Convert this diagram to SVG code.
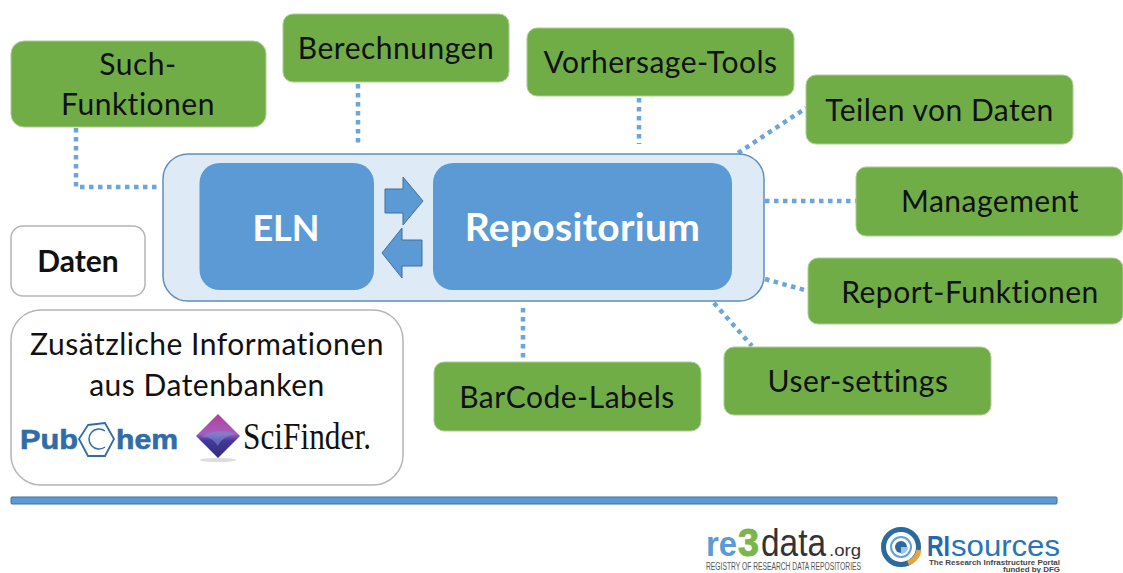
<svg xmlns="http://www.w3.org/2000/svg" width="1123" height="573" viewBox="0 0 1123 573">
<style>
text{font-family:Lato,"Open Sans",sans-serif}
.s{font-family:"Liberation Sans",sans-serif}
.g rect{fill:#70ad47;stroke:#a9cf94;stroke-width:1}
.g text{font-size:30px;fill:#111;text-anchor:middle;letter-spacing:.5px}
.c{fill:none;stroke:#5b9bd5;stroke-width:4.500;stroke-dasharray:4.500 4.500;opacity:.9}
.w{fill:#fff;stroke:#b5b5b5;stroke-width:1.500}
.b{fill:#5b9ad5}
.ar{fill:#5b9ad5;stroke:#41719c;stroke-width:1}
</style>
<rect width="1123" height="573" fill="#fff"/>
<g id="connectors">
<path class="c" d="M76 128V187H157"/>
<path class="c" d="M358 84V144"/>
<path class="c" d="M639 98V144"/>
<path class="c" d="M738 153L806 108"/>
<path class="c" d="M765 201H856"/>
<path class="c" d="M765 279L808 291"/>
<path class="c" d="M714 303L752 346"/>
<path class="c" d="M523 308V362"/>
</g>
<g id="repo-container"><rect x="163" y="154" width="601" height="147" rx="25" fill="#deeaf6" stroke="#5f8fbd" stroke-width="1.500"/></g>
<g id="eln"><rect class="b" x="199.500" y="163" width="174.500" height="127" rx="20"/><text x="286" y="241" font-size="36" font-weight="700" fill="#fff" text-anchor="middle">ELN</text></g>
<g id="repositorium"><rect class="b" x="433" y="163" width="299" height="127" rx="20"/><text x="582.500" y="241" font-size="39" font-weight="700" fill="#fff" text-anchor="middle" letter-spacing=".3">Repositorium</text></g>
<g id="arrows">
<path class="ar" d="M385 189H403V177L423 201L403 225V213H385Z"/>
<path class="ar" d="M422 240H402V228L382 253L402 278V266H422Z"/>
</g>
<g id="such" class="g"><rect x="11" y="41" width="255" height="86" rx="13"/><text x="138" y="75">Such-</text><text x="138" y="115">Funktionen</text></g>
<g id="berechnungen" class="g"><rect x="283" y="14" width="226" height="68" rx="10"/><text x="396" y="59">Berechnungen</text></g>
<g id="vorhersage" class="g"><rect x="527" y="28" width="267" height="68" rx="10"/><text x="660.500" y="73">Vorhersage-Tools</text></g>
<g id="teilen" class="g"><rect x="806" y="75" width="267" height="69" rx="10"/><text x="939.500" y="121">Teilen von Daten</text></g>
<g id="management" class="g"><rect x="856" y="167" width="267" height="69" rx="10"/><text x="990" y="212">Management</text></g>
<g id="report" class="g"><rect x="808" y="258" width="315" height="66" rx="10"/><text x="970" y="303">Report-Funktionen</text></g>
<g id="user" class="g"><rect x="724" y="347" width="267" height="68" rx="10"/><text x="858" y="392">User-settings</text></g>
<g id="barcode" class="g"><rect x="434" y="362" width="267" height="69" rx="10"/><text x="567" y="408">BarCode-Labels</text></g>
<g id="daten"><rect class="w" x="11" y="226" width="134" height="70" rx="12"/><text x="78" y="272" font-size="30" font-weight="700" fill="#111" text-anchor="middle">Daten</text></g>
<g id="zusatz">
<rect class="w" x="11" y="310" width="392" height="175" rx="30"/>
<text x="207" y="355" font-size="30" fill="#111" text-anchor="middle" letter-spacing=".5">Zusätzliche Informationen</text>
<text x="207" y="396" font-size="30" fill="#111" text-anchor="middle" letter-spacing=".5">aus Datenbanken</text>
<text class="s" x="20" y="449" font-size="27" font-weight="700" fill="#2f6ca8" textLength="58" lengthAdjust="spacingAndGlyphs" stroke="#2f6ca8" stroke-width=".6">Pub</text>
<path d="M88 425L105 423L114 439L105 456L88 456L79 439Z" fill="none" stroke="#2f6ca8" stroke-width="1.800"/>
<path d="M105 431A10 10 0 1 0 105 447" fill="none" stroke="#2f6ca8" stroke-width="1.500"/>
<text class="s" x="116" y="449" font-size="27" font-weight="700" fill="#2f6ca8" textLength="62" lengthAdjust="spacingAndGlyphs" stroke="#2f6ca8" stroke-width=".6">hem</text>
<defs><linearGradient id="dia" x1="0" y1="0" x2="0" y2="1"><stop offset="0" stop-color="#b0409a"/><stop offset=".45" stop-color="#a85cc0"/><stop offset=".6" stop-color="#453a9a"/><stop offset="1" stop-color="#2e2a80"/></linearGradient></defs>
<path d="M218 414L240 436L218 458L196 436Z" fill="url(#dia)"/>
<path d="M201 437Q218 427 236 434Q222 436 218 446Q212 436 201 437Z" fill="#6f8fd0" opacity=".6"/>
<ellipse cx="218" cy="460" rx="18" ry="2" fill="#ddd"/>
<text x="243" y="449" font-size="37" fill="#111" style="font-family:'Liberation Serif',serif" textLength="128" lengthAdjust="spacingAndGlyphs">SciFinder.</text>
</g>
<g id="divider"><rect x="11" y="497" width="1046" height="7" rx="1" fill="#5b9ad5" stroke="#41719c" stroke-width="1"/></g>
<g id="re3data">
<text class="s" x="706" y="556" font-size="35" font-weight="700" fill="#5b9bd5" textLength="31" lengthAdjust="spacingAndGlyphs">re</text>
<text class="s" x="738" y="556" font-size="38" font-weight="700" fill="#7ab648" stroke="#7ab648" textLength="21" lengthAdjust="spacingAndGlyphs">3</text>
<text class="s" x="761" y="556" font-size="38" fill="#333" textLength="65" lengthAdjust="spacingAndGlyphs">data</text>
<text class="s" x="829" y="556" font-size="16" fill="#333" textLength="32" lengthAdjust="spacingAndGlyphs">.org</text>
<text class="s" x="706" y="570" font-size="10" fill="#555" textLength="155" lengthAdjust="spacingAndGlyphs">REGISTRY OF RESEARCH DATA REPOSITORIES</text>
</g>
<g id="risources">
<circle cx="901" cy="547" r="17.500" fill="none" stroke="#2a6a9e" stroke-width="5"/>
<path d="M908 563A17.500 17.500 0 0 0 919 550" fill="none" stroke="#e8a33a" stroke-width="5"/>
<circle cx="901" cy="547" r="10" fill="#fff" stroke="#5fa0d8" stroke-width="2"/>
<circle cx="901" cy="547" r="6" fill="#2a6a9e"/>
<path d="M901 547h7a7 7 0 0 1-7 7Z" fill="#9cc6e8"/>
<text class="s" x="927" y="556" font-size="30" font-weight="700" fill="#1f69ae" textLength="23" lengthAdjust="spacingAndGlyphs">RI</text>
<text class="s" x="951" y="556" font-size="30" fill="#2a74b8" textLength="109" lengthAdjust="spacingAndGlyphs">sources</text>
<text class="s" x="929" y="565" font-size="7.500" font-weight="700" fill="#444" textLength="131" lengthAdjust="spacingAndGlyphs">The Research Infrastructure Portal</text>
<text class="s" x="1003" y="572" font-size="6.500" font-weight="700" fill="#444" textLength="57" lengthAdjust="spacingAndGlyphs">funded by DFG</text>
</g>
</svg>
